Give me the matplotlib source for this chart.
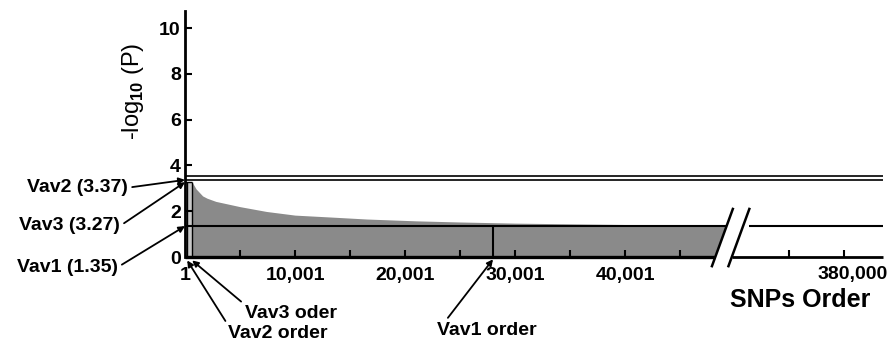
import matplotlib
matplotlib.use("Agg")
import matplotlib.pyplot as plt
from matplotlib.patches import Polygon
import numpy as np

# SNPs ranked by association, with the -log10(P) envelope of the ranking
snp_order = [650, 1000, 1600, 2000, 2800, 5000, 7400, 10000, 13500, 16500,
             21000, 25000, 30000, 35000, 40000, 45000, 49500]
neg_log_p = [3.27, 2.98, 2.67, 2.57, 2.43, 2.20, 1.99, 1.83, 1.74, 1.66,
             1.58, 1.53, 1.48, 1.45, 1.42, 1.40, 1.39]

# Vav genes: score and rank
vav_names = ["Vav1", "Vav2", "Vav3"]
vav_scores = [1.35, 3.37, 3.27]
vav_orders = [28000, 200, 650]
top_line_score = 3.56

total_snps = 380000
left_ticks = [5000, 10000, 15000, 20000, 25000, 30000, 35000, 40000, 45000]
right_ticks = [371500, 376500]
label_orders = [1, 10001, 20001, 30001, 40001]
label_texts = ["1", "10,001", "20,001", "30,001", "40,001"]

RIGHT_START = 366550  # first rank shown after the axis break


def xpos(order):
    # axis position: ranks in thousands, with a jump over the break
    order = np.asarray(order, dtype=float)
    return np.where(order < 100000, order / 1000, 50 + (order - RIGHT_START) / 1000)


def slash_x(y, x_bottom):
    # x of a break stroke at height y (stroke starts at y=-0.4)
    return x_bottom + (y + 0.4) * 0.76


plt.rcParams['font.family'] = ['Liberation Sans', 'DejaVu Sans']
plt.rcParams['font.weight'] = 'bold'
plt.rcParams['mathtext.fontset'] = 'custom'
plt.rcParams['mathtext.rm'] = 'Liberation Sans'

fig = plt.figure(figsize=(8.92, 3.47), dpi=100)
ax = fig.add_axes([185 / 892, 90 / 347, 698 / 892, 246 / 347])
x_end = float(xpos(total_snps))
ax.set_xlim(0, x_end)
ax.set_ylim(0, 10.75)

S1, S2 = 47.9, 49.4  # bottoms of the two break strokes
v1, v2, v3 = vav_scores
o1, o2, o3 = vav_orders

# shaded area, cut along the first break stroke
clip = Polygon([(-1, -1), (slash_x(-1, S1), -1), (slash_x(11, S1), 11), (-1, 11)],
               closed=True, transform=ax.transData)
area = ax.fill_between(xpos(snp_order), 0, neg_log_p, color='#8a8a8a', lw=0)
area.set_clip_path(clip)
ax.fill_between([0, float(xpos(o3))], 0, v3, color='#c8c8c8', lw=0)
ax.vlines([float(xpos(o2)), float(xpos(o3))], 0, v3, color='black', lw=1.0)
ax.hlines(v3, 0, float(xpos(o3)), color='black', lw=1.0)

# score lines
ax.hlines([top_line_score, v2], 0, x_end, color='black', lw=1.2, clip_on=False)
ax.hlines(v1, 0, slash_x(v1, S1), color='black', lw=1.5)
ax.hlines(v1, slash_x(v1, S2) + 0.5, x_end, color='black', lw=1.5, clip_on=False)
ax.vlines(float(xpos(o1)), 0, v1, color='black', lw=1.5)

# baseline in two pieces and the break strokes
ax.hlines(0, 0, slash_x(0, S1), color='black', lw=2.4, clip_on=False)
ax.hlines(0, slash_x(0, S2), x_end, color='black', lw=2.0, clip_on=False)
for xb in (S1, S2):
    ax.plot([xb, slash_x(2.1, xb)], [-0.4, 2.1], color='black', lw=1.8, clip_on=False)

# axes
for side in ['top', 'right', 'bottom']:
    ax.spines[side].set_visible(False)
ax.spines['left'].set_linewidth(2)
ax.set_yticks(range(0, 11, 2))
ax.tick_params(axis='y', direction='in', length=5, width=1.5, pad=3, labelsize=14)
ax.set_xticks(xpos(left_ticks + right_ticks))
ax.tick_params(axis='x', direction='in', length=5, width=1.5, labelbottom=False)

for order, txt in zip(label_orders, label_texts):
    ax.text(float(xpos(order)), -0.8, txt, ha='center', va='center', fontsize=14)
ax.text(x_end + 0.4, -0.75, f"{total_snps:,}", ha='right', va='center', fontsize=14)
ax.text(55.9, -1.9, "SNPs Order", ha='center', va='center', fontsize=18)
ax.text(-0.0745, 0.675, r"-log$_{\mathrm{10}}$ (P)", rotation=90, ha='center',
        va='center', fontsize=17, fontweight='normal', transform=ax.transAxes)

# call-outs
def arrow(rel):
    return dict(arrowstyle='-|>', color='black', lw=1.3, mutation_scale=9,
                shrinkA=1, shrinkB=0, relpos=rel)


left_text = {"Vav2": (-5.18, 3.03), "Vav3": (-5.9, 1.36), "Vav1": (-6.1, -0.44)}
for name, score in zip(vav_names, vav_scores):
    ax.annotate(f"{name} ({score:.2f})", xy=(0, score), xytext=left_text[name],
                ha='right', va='center', fontsize=14, annotation_clip=False,
                arrowprops=arrow((1, 0.5)))

ax.annotate("Vav3 oder", xy=(float(xpos(o3)), -0.15), xytext=(5.45, -2.46),
            ha='left', va='center', fontsize=14, annotation_clip=False,
            arrowprops=arrow((0, 1)))
ax.annotate("Vav2 order", xy=(float(xpos(o2)), -0.15), xytext=(3.9, -3.34),
            ha='left', va='center', fontsize=14, annotation_clip=False,
            arrowprops=arrow((0, 1)))
ax.annotate("Vav1 order", xy=(float(xpos(o1)), -0.1), xytext=(22.9, -3.2),
            ha='left', va='center', fontsize=14, annotation_clip=False,
            arrowprops=arrow((0.08, 1)))

fig.savefig("out.png", dpi=100)
